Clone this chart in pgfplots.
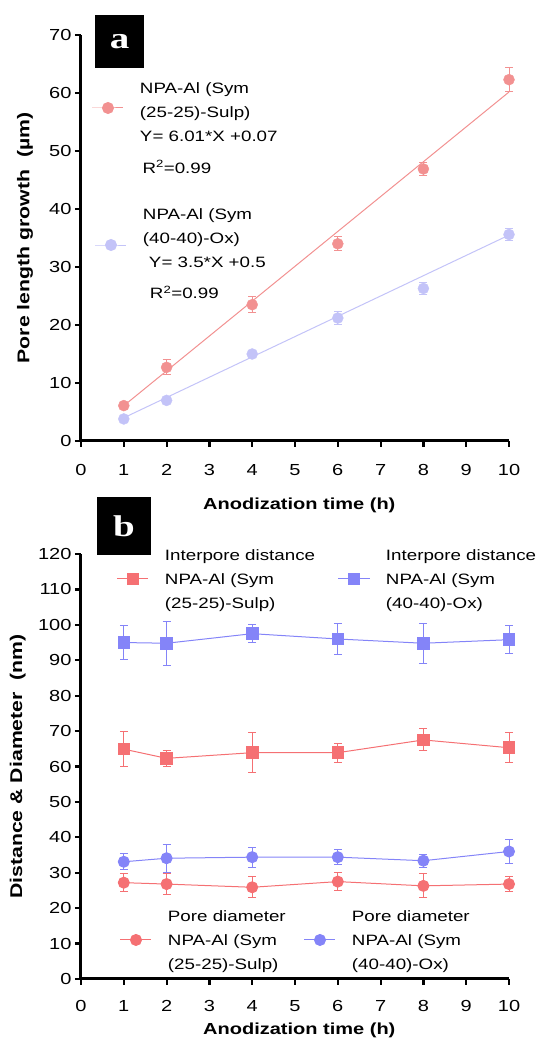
\documentclass[border=0pt]{standalone}
\usepackage{fontspec}
\setmainfont{Liberation Sans}[FakeStretch=1.25]
\newfontfamily\panelfont{Liberation Serif}[FakeStretch=1.3]
\usepackage{pgfplots}
\pgfplotsset{compat=1.18}

\definecolor{redA}{RGB}{242,145,145}
\definecolor{blueA}{RGB}{195,195,248}
\definecolor{redB}{RGB}{245,112,115}
\definecolor{blueB}{RGB}{132,132,248}

\def\limgoff{0pt}
\pgfplotsset{
  gp/.style={
    scale only axis, width=428pt,
    xmin=0, xmax=10, xtick={0,...,10},
    axis lines=left,
    axis line style={line width=3pt,-},
    x axis line style={line width=3pt,-},
    y axis line style={line width=3pt,-},
    tick align=outside, major tick length=6pt,
    every tick/.style={black, line width=2.2pt},
    ticklabel style={font=\fontsize{16}{19}\selectfont},
    /pgf/number format/assume math mode=true,
    label style={font=\bfseries\fontsize{16}{19}\selectfont},
    ylabel style={font=\bfseries\fontsize{17}{20}\selectfont},
    clip=false,
    legend style={draw=none, fill=none, inner sep=0pt, outer sep=0pt,
      anchor=west, font=\fontsize{15}{24}\selectfont,
      nodes={inner sep=0pt}, column sep=16pt},
    legend cell align=left,
    legend image code/.code={\draw[mark repeat=2,mark phase=2]
      plot coordinates {(0pt,\limgoff) (15.5pt,\limgoff) (31pt,\limgoff)};},
  },
  ebar/.style={error bars/.cd, y dir=both, y explicit,
    error bar style={line width=1pt, #1},
    error mark options={rotate=90, mark size=4pt, line width=1pt, #1}},
}

\begin{document}
\begin{tikzpicture}
\useasboundingbox (0,0) rectangle (539pt,1043pt);

% ---------- panel a ----------
\def\limgoff{-11pt}
\begin{axis}[gp, at={(81pt,602pt)}, anchor=south west, height=406pt,
  ymin=0, ymax=70, ytick={0,10,...,70},
  xticklabel style={yshift=-14pt},
  xlabel={Anodization time (h)},
  ylabel={Pore length growth~~(µm)},
  xlabel style={at={(axis description cs:0.51,-0.159)}, anchor=center},
  ylabel style={at={(axis description cs:-0.131,0.5)}, anchor=center},
  legend style={at={(0.0257,0.8473)}}]
% linear fits
\addplot[redA, line width=1pt, forget plot] coordinates {(1,6.08) (10,60.17)};
\addplot[blueA, line width=1pt, forget plot] coordinates {(1,4.0) (10,35.5)};
% measured points
\addplot[only marks, redA, mark=*, mark size=5.5pt, forget plot, ebar=redA]
  coordinates {(1,6.1) +- (0,0.4) (2,12.7) +- (0,1.3) (4,23.5) +- (0,1.4)
               (6,34.0) +- (0,1.2) (8,46.9) +- (0,1.2) (10,62.3) +- (0,2.1)};
\addplot[only marks, blueA, mark=*, mark size=5.5pt, forget plot, ebar=blueA]
  coordinates {(1,3.8) +- (0,0.3) (2,7.0) +- (0,0.3) (4,15.0) +- (0,0.4)
               (6,21.2) +- (0,1.2) (8,26.3) +- (0,1.0) (10,35.6) +- (0,1.1)};
\addlegendimage{redA, line width=1pt, mark=*, mark size=5.5pt}
\addlegendentry{\begin{tabular}{@{}l@{}}NPA-Al (Sym\\(25-25)-Sulp)\\Y= 6.01*X +0.07\end{tabular}}
\end{axis}

\def\limgoff{-14pt}
\begin{axis}[gp, at={(81pt,602pt)}, anchor=south west, height=406pt,
  ymin=0, ymax=70, hide axis,
  legend style={at={(0.0327,0.5172)}}]
\addlegendimage{blueA, line width=1pt, mark=*, mark size=5.5pt}
\addlegendentry{\begin{tabular}{@{}l@{}}NPA-Al (Sym\\(40-40)-Ox)\\\hspace{6pt}Y= 3.5*X +0.5\\[7pt]\hspace{7pt}R\textsuperscript{2}=0.99\end{tabular}}
\end{axis}

\node[anchor=west, font=\fontsize{15}{18}\selectfont] at (139pt,876pt) {R\textsuperscript{2}=0.99};

% ---------- panel b ----------
\def\limgoff{-15pt}
\begin{axis}[gp, at={(81pt,64pt)}, anchor=south west, height=425pt,
  ymin=0, ymax=120, ytick={0,10,...,120},
  xticklabel style={yshift=-12pt},
  xlabel={Anodization time (h)},
  ylabel={Distance \& Diameter~~(nm)},
  xlabel style={at={(axis description cs:0.51,-0.122)}, anchor=center},
  ylabel style={at={(axis description cs:-0.148,0.5)}, anchor=center},
  legend columns=2,
  legend style={at={(0.0841,0.9764)}}]
% interpore distance
\addplot[redB, line width=1pt, mark=square*, mark size=5.8pt, forget plot, ebar=redB]
  coordinates {(1,64.9) +- (0,5.0) (2,62.3) +- (0,2.3) (4,63.9) +- (0,5.6)
               (6,63.9) +- (0,2.7) (8,67.5) +- (0,3.1) (10,65.3) +- (0,4.2)};
\addplot[blueB, line width=1pt, mark=square*, mark size=5.8pt, forget plot, ebar=blueB]
  coordinates {(1,95.0) +- (0,4.8) (2,94.8) +- (0,6.2) (4,97.5) +- (0,2.5)
               (6,96.0) +- (0,4.5) (8,94.8) +- (0,5.6) (10,95.8) +- (0,4.0)};
% pore diameter
\addplot[redB, line width=1pt, mark=*, mark size=5.5pt, forget plot, ebar=redB]
  coordinates {(1,27.2) +- (0,2.5) (2,26.8) +- (0,3.0) (4,25.9) +- (0,2.9)
               (6,27.5) +- (0,2.5) (8,26.3) +- (0,3.4) (10,26.8) +- (0,2.1)};
\addplot[blueB, line width=1pt, mark=*, mark size=5.5pt, forget plot, ebar=blueB]
  coordinates {(1,33.1) +- (0,2.2) (2,34.1) +- (0,4.0) (4,34.4) +- (0,2.8)
               (6,34.4) +- (0,2.2) (8,33.4) +- (0,1.8) (10,36.0) +- (0,3.3)};
\addlegendimage{redB, line width=1pt, mark=square*, mark size=5.8pt}
\addlegendentry{\begin{tabular}{@{}p{157pt}@{}}Interpore distance\\NPA-Al (Sym\\(25-25)-Sulp)\end{tabular}}
\addlegendimage{blueB, line width=1pt, mark=square*, mark size=5.8pt}
\addlegendentry{\begin{tabular}{@{}l@{}}Interpore distance\\NPA-Al (Sym\\(40-40)-Ox)\end{tabular}}
\end{axis}

\begin{axis}[gp, at={(81pt,64pt)}, anchor=south west, height=425pt,
  ymin=0, ymax=120, hide axis, legend columns=2,
  legend style={at={(0.0911,0.1271)}}]
\addlegendimage{redB, line width=1pt, mark=*, mark size=5.5pt}
\addlegendentry{\begin{tabular}{@{}p{120pt}@{}}Pore diameter\\NPA-Al (Sym\\(25-25)-Sulp)\end{tabular}}
\addlegendimage{blueB, line width=1pt, mark=*, mark size=5.5pt}
\addlegendentry{\begin{tabular}{@{}l@{}}Pore diameter\\NPA-Al (Sym\\(40-40)-Ox)\end{tabular}}
\end{axis}

% panel letters
\node[fill=black, text=white, minimum width=49pt, minimum height=53pt, inner sep=0pt,
  font=\panelfont\bfseries\fontsize{30}{30}\selectfont] at (119.5pt,1001.5pt) {a};
\node[fill=black, text=white, minimum width=54pt, minimum height=58pt, inner sep=0pt,
  font=\panelfont\bfseries\fontsize{30}{30}\selectfont] at (124pt,517pt) {b};
\end{tikzpicture}
\end{document}
